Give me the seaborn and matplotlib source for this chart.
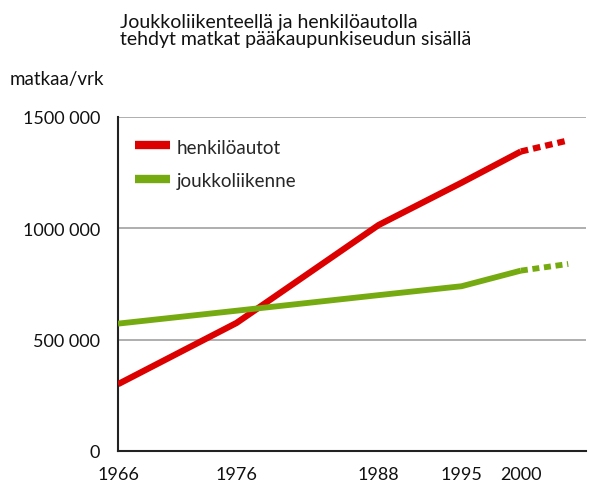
import numpy as np
import pandas as pd
import matplotlib
matplotlib.use("Agg")
import matplotlib.pyplot as plt
import seaborn as sns

# data
years = [1966, 1976, 1988, 1995, 2000]
henkiloautot = [300000, 575000, 1015000, 1205000, 1345000]
joukkoliikenne = [572000, 630000, 700000, 740000, 810000]

# projection (dotted part)
proj_years = [2000, 2004]
henkiloautot_proj = [1345000, 1395000]
joukkoliikenne_proj = [810000, 840000]

yticks = [0, 500000, 1000000, 1500000]
ytick_labels = ["0", "500 000", "1000 000", "1500 000"]

RED = "#dc0000"
GREEN = "#75ab10"

sns.set_theme(style="white")
plt.rcParams["font.family"] = ["Lato", "DejaVu Sans"]

df = pd.DataFrame({"vuosi": years, "henkilöautot": henkiloautot,
                   "joukkoliikenne": joukkoliikenne})
dfp = pd.DataFrame({"vuosi": proj_years, "henkilöautot": henkiloautot_proj,
                    "joukkoliikenne": joukkoliikenne_proj})

fig = plt.figure(figsize=(5.89, 4.89), dpi=100)
ax = fig.add_axes([118 / 589, 1 - 452 / 489, (586 - 118) / 589, (452 - 118) / 489])

for y in yticks[1:]:
    ax.axhline(y, color="#a8a8a8", lw=1.3, zorder=1)

sns.lineplot(data=df, x="vuosi", y="henkilöautot", color=RED, lw=4.5,
             ax=ax, label="henkilöautot", zorder=3)
sns.lineplot(data=df, x="vuosi", y="joukkoliikenne", color=GREEN, lw=4.2,
             ax=ax, label="joukkoliikenne", zorder=3)
sns.lineplot(data=dfp, x="vuosi", y="henkilöautot", color=RED, lw=4.5,
             ax=ax, linestyle=(0, (1.2, 0.8)), legend=False, zorder=3)
sns.lineplot(data=dfp, x="vuosi", y="joukkoliikenne", color=GREEN, lw=4.2,
             ax=ax, linestyle=(0, (1.2, 0.8)), legend=False, zorder=3)
for ln in ax.lines:
    ln.set_solid_capstyle("butt")
    ln.set_dash_capstyle("butt")
    ln.set_solid_joinstyle("round")

ax.set_xlim(1966, 2005.5)
ax.set_ylim(0, 1500000)
ax.set_xticks(years + [2005.5])
ax.set_xticklabels([str(y) for y in years] + [""])
ax.set_yticks(yticks)
ax.set_yticklabels(ytick_labels)
ax.set_xlabel("")
ax.set_ylabel("")

for s in ["top", "right"]:
    ax.spines[s].set_visible(False)
for s in ["left", "bottom"]:
    ax.spines[s].set_color("#222222")
    ax.spines[s].set_linewidth(1.5)

ax.tick_params(axis="both", which="major", direction="out", length=6, width=1.5,
               color="#222222", labelsize=13, labelcolor="#111111")
ax.tick_params(axis="x", pad=5)
ax.tick_params(axis="y", pad=7)
ax.set_clip_on(False)

leg = ax.legend(loc="upper left", bbox_to_anchor=(0.02, 0.96), frameon=False,
                fontsize=13.5, handlelength=1.85, handleheight=1.0,
                labelspacing=0.85, borderaxespad=0, handletextpad=0.4)
for h in leg.get_lines():
    h.set_linewidth(6)
    h.set_solid_capstyle("butt")

fig.text(120 / 589, 1 - 31 / 489, "Joukkoliikenteellä ja henkilöautolla\ntehdyt matkat pääkaupunkiseudun sisällä",
         fontsize=14, va="center", ha="left", color="#111111", linespacing=1.05)
fig.text(10 / 589, 1 - 80 / 489, "matkaa/vrk", fontsize=13.5, va="center", ha="left",
         color="#111111")

fig.savefig("out.png", dpi=100)
